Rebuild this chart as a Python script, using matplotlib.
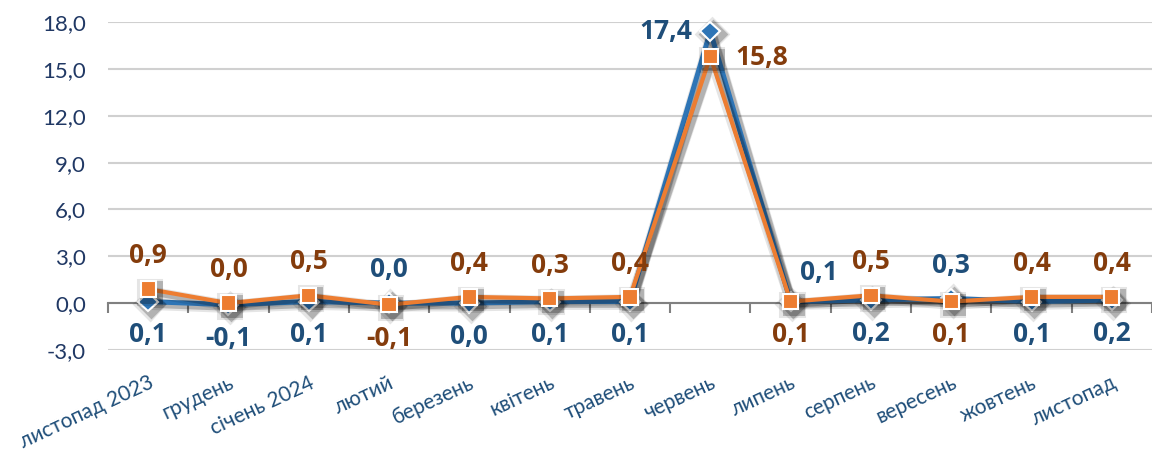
import matplotlib
matplotlib.use("Agg")
import matplotlib.pyplot as plt
import matplotlib.patheffects as pe
import numpy as np

plt.rcParams['font.family'] = ['Lato', 'DejaVu Sans']

# місяці
months = ["листопад 2023", "грудень", "січень 2024", "лютий", "березень",
          "квітень", "травень", "червень", "липень", "серпень",
          "вересень", "жовтень", "листопад"]

# два ряди (синій ромб, помаранчевий квадрат)
blue_vals = [0.1, -0.1, 0.1, 0.0, 0.0, 0.1, 0.1, 17.4, 0.1, 0.2, 0.3, 0.1, 0.2]
orange_vals = [0.9, 0.0, 0.5, -0.1, 0.4, 0.3, 0.4, 15.8, 0.1, 0.5, 0.1, 0.4, 0.4]

# де ставити підписи
blue_pos = ["below", "below", "below", "above", "below", "below", "below",
            "left", "aboveright", "below", "above", "below", "below"]
orange_pos = ["above", "above", "above", "below", "above", "above", "above",
              "right", "below", "above", "below", "above", "above"]

yticks = [-3, 0, 3, 6, 9, 12, 15, 18]

c_blue = "#2E75B6"
c_orange = "#ED7D31"
c_blue_txt = "#1F4E79"
c_orange_txt = "#843C0C"

fig = plt.figure(figsize=(11.52, 4.51), dpi=100)
ax = fig.add_axes([0.09375, 0.224, 0.90625, 0.727])

x = np.arange(len(months))

shadow = [pe.SimpleLineShadow(offset=(1, -2), alpha=0.10, shadow_color="k", linewidth=8),
          pe.SimpleLineShadow(offset=(2, -2), alpha=0.22, shadow_color="k", linewidth=5),
          pe.Normal()]

ax.plot(x, blue_vals, color=c_blue, linewidth=3.6, marker="D", markersize=10,
        markerfacecolor=c_blue, markeredgecolor="white", markeredgewidth=1.5,
        path_effects=shadow, zorder=3, clip_on=False)
ax.plot(x, orange_vals, color=c_orange, linewidth=3.0, marker="s", markersize=11,
        markerfacecolor=c_orange, markeredgecolor="white", markeredgewidth=1.5,
        path_effects=shadow, zorder=4, clip_on=False)

offsets = {"above": (0, 24, "center", "center"),
           "below": (0, -24, "center", "center"),
           "left": (-13, 0, "right", "center"),
           "right": (18, -1, "left", "center"),
           "aboveright": (20, 21, "center", "center")}


def fmt(v):
    return f"{v:.1f}".replace(".", ",")


for vals, poss, col in [(blue_vals, blue_pos, c_blue_txt),
                        (orange_vals, orange_pos, c_orange_txt)]:
    for i, (v, p) in enumerate(zip(vals, poss)):
        dx, dy, ha, va = offsets[p]
        ax.annotate(fmt(v), (i, v), xytext=(dx, dy), textcoords="offset points",
                    ha=ha, va=va, fontsize=19, fontweight="bold", color=col,
                    family=["Open Sans", "DejaVu Sans"], zorder=5)

ax.set_xlim(-0.5, 12.44)
ax.set_ylim(-3, 18)
ax.set_yticks(yticks)
ax.set_yticklabels([fmt(t) for t in yticks], fontsize=16, color="#203864")
ax.tick_params(axis="y", length=0, pad=16)
ax.grid(axis="y", color="#d0d0d0", linewidth=1.5)
ax.set_axisbelow(True)

for s in ["left", "right", "top"]:
    ax.spines[s].set_visible(False)
ax.spines["bottom"].set_position(("data", 0))
ax.spines["bottom"].set_color("#808080")
ax.spines["bottom"].set_linewidth(1.5)

ax.set_xticks(x)
ax.set_xticks(np.arange(len(months) + 1) - 0.5, minor=True)
ax.tick_params(axis="x", which="minor", length=7, width=1.5, color="#808080",
               direction="out")
ax.tick_params(axis="x", which="major", length=0, pad=50)
ax.set_xticklabels(months, rotation=25, ha="right", rotation_mode="anchor",
                   fontsize=15, color=c_blue_txt)

fig.savefig("out.png", dpi=100)
